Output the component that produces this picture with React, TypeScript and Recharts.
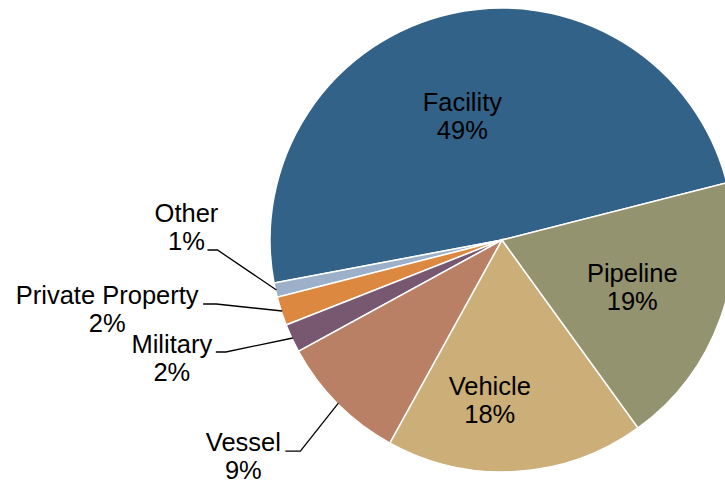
import { PieChart, Pie, Cell } from 'recharts'

const categories = ['Facility', 'Other', 'Private Property', 'Military', 'Vessel', 'Vehicle', 'Pipeline']
const shares = [49, 1, 2, 2, 9, 18, 19]
const sliceColors = ['#336289', '#9CB1C9', '#DD8841', '#775870', '#BA8066', '#CBAE78', '#94936F']

const data = categories.map((name, i) => ({ name, value: shares[i] }))

const RAD = Math.PI / 180
const FONT = 'Arial, "Liberation Sans", sans-serif'
const FONT_SIZE = 25.5
const LINE_H = 28

// inside labels: nudges from the point at 0.62 * radius on the slice's mid angle (to first baseline)
const insideLabels: Record<string, { dx: number; dy: number }> = {
  Facility: { dx: -8.5, dy: 11.5 },
  Pipeline: { dx: -5, dy: -7 },
  Vehicle: { dx: -21, dy: 11.5 },
}

// outside labels: elbow offset from the slice edge, tail length, text offset from tail end
const outsideLabels: Record<string, { ex: number; ey: number; tail: number; tx: number; ty: number }> = {
  Other: { ex: -59, ey: -40, tail: 10, tx: -21, ty: -28 },
  'Private Property': { ex: -66, ey: -7, tail: 13, tx: -96, ty: 0 },
  Military: { ex: -67, ey: 14, tail: 10, tx: -44, ty: 1 },
  Vessel: { ex: -38, ey: 48, tail: 15, tx: -42, ty: 0 },
}

function SliceLabel(props: any) {
  const { cx, cy, midAngle, outerRadius, name, value } = props
  const cos = Math.cos(-midAngle * RAD)
  const sin = Math.sin(-midAngle * RAD)

  const inside = insideLabels[name]
  if (inside) {
    const r = outerRadius * 0.62
    const x = cx + r * cos + inside.dx
    const y = cy + r * sin + inside.dy
    return (
      <text x={x} y={y} textAnchor="middle" fontFamily={FONT} fontSize={FONT_SIZE} fill="#000">
        <tspan x={x} dy={0}>{name}</tspan>
        <tspan x={x} dy={LINE_H}>{value}%</tspan>
      </text>
    )
  }

  const cfg = outsideLabels[name]
  if (!cfg) return null
  const sx = cx + (outerRadius - 1) * cos
  const sy = cy + (outerRadius - 1) * sin
  const mx = sx + cfg.ex
  const my = sy + cfg.ey
  const endX = mx - cfg.tail
  const tx = endX + cfg.tx
  const ty = my + cfg.ty
  return (
    <g>
      <polyline points={`${sx},${sy} ${mx},${my} ${endX},${my}`} fill="none" stroke="#000" strokeWidth={1.3} />
      <text x={tx} y={ty} textAnchor="middle" fontFamily={FONT} fontSize={FONT_SIZE} fill="#000">
        <tspan x={tx} dy={0}>{name}</tspan>
        <tspan x={tx} dy={LINE_H}>{value}%</tspan>
      </text>
    </g>
  )
}

export default function App() {
  return (
    <div style={{ position: 'absolute', top: 0, left: 0, width: 725, height: 487, background: '#fff' }}>
      <PieChart width={725} height={487} margin={{ top: 0, right: 0, bottom: 0, left: 0 }}>
        <Pie
          data={data}
          dataKey="value"
          nameKey="name"
          cx={502}
          cy={240}
          outerRadius={232}
          startAngle={14.3}
          endAngle={374.3}
          stroke="#fff"
          strokeWidth={1.5}
          label={SliceLabel}
          labelLine={false}
          isAnimationActive={false}
        >
          {data.map((d, i) => (
            <Cell key={d.name} fill={sliceColors[i]} />
          ))}
        </Pie>
      </PieChart>
    </div>
  )
}
